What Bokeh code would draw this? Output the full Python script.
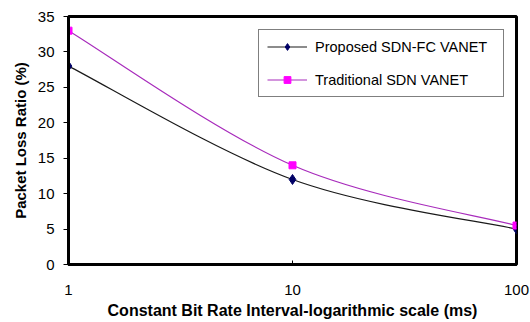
from bokeh.plotting import figure
from bokeh.models import FixedTicker, Range1d, Legend, LegendItem, ColumnDataSource
from bokeh.embed import file_html
from bokeh.resources import INLINE
import numpy as np

# ---- data ----
cbr_interval = [1, 10, 100]
proposed = [28, 12, 5]
traditional = [33, 14, 5.5]
x_tick_values = [1, 10, 100]
x_tick_labels = ["1", "10", "100"]
y_tick_values = [0, 5, 10, 15, 20, 25, 30, 35]
series_names = ["Proposed SDN-FC VANET", "Traditional SDN VANET"]

FONT = "Liberation Sans"

p = figure(width=530, height=322, x_axis_type="log",
           x_range=Range1d(1, 100), y_range=Range1d(0, 35),
           output_backend="svg", toolbar_location=None,
           min_border_left=68, min_border_right=14, min_border_top=16,
           min_border_bottom=58)
p.background_fill_color = "white"
p.border_fill_color = "white"
p.outline_line_color = "black"
p.outline_line_width = 3
p.xgrid.visible = False
p.ygrid.visible = False


def smooth_segments(xs, ys):
    """Cubic bezier segments (Catmull-Rom) through the data points, in log-x space."""
    u = np.log10(np.array(xs, dtype=float))
    v = np.array(ys, dtype=float)
    n = len(u)
    tu = np.zeros(n)
    tv = np.zeros(n)
    for i in range(n):
        a = max(i - 1, 0)
        b = min(i + 1, n - 1)
        tu[i] = (u[b] - u[a]) / 2
        tv[i] = (v[b] - v[a]) / 2
    seg = dict(x0=[], y0=[], x1=[], y1=[], cx0=[], cy0=[], cx1=[], cy1=[])
    for i in range(n - 1):
        seg["x0"].append(10 ** u[i]); seg["y0"].append(v[i])
        seg["x1"].append(10 ** u[i + 1]); seg["y1"].append(v[i + 1])
        seg["cx0"].append(10 ** (u[i] + tu[i] / 3)); seg["cy0"].append(v[i] + tv[i] / 3)
        seg["cx1"].append(10 ** (u[i + 1] - tu[i + 1] / 3)); seg["cy1"].append(v[i + 1] - tv[i + 1] / 3)
    return ColumnDataSource(seg)


b1 = p.bezier("x0", "y0", "x1", "y1", "cx0", "cy0", "cx1", "cy1",
              source=smooth_segments(cbr_interval, proposed),
              line_color="#1a1a1a", line_width=1.2)
s1 = p.scatter(cbr_interval, proposed, marker="diamond", size=10,
               fill_color="#000066", line_color="#000066")
b2 = p.bezier("x0", "y0", "x1", "y1", "cx0", "cy0", "cx1", "cy1",
              source=smooth_segments(cbr_interval, traditional),
              line_color="#a82cbc", line_width=1.2)
s2 = p.scatter(cbr_interval, traditional, marker="square", size=7,
               fill_color="#ff00ff", line_color="#ff00ff")

# axes
p.xaxis.ticker = FixedTicker(ticks=x_tick_values)
p.xaxis.major_label_overrides = {v: l for v, l in zip(x_tick_values, x_tick_labels)}
p.xaxis.minor_tick_line_color = None
p.xaxis.major_tick_in = 4
p.xaxis.major_tick_out = 0
p.xaxis.major_label_standoff = 20
p.xaxis.axis_label = "Constant Bit Rate Interval-logarithmic scale (ms)"
p.xaxis.axis_label_standoff = 4

p.yaxis.ticker = FixedTicker(ticks=y_tick_values)
p.yaxis.minor_tick_line_color = None
p.yaxis.major_tick_in = 0
p.yaxis.major_tick_out = 5
p.yaxis.major_label_standoff = 9
p.yaxis.axis_label = "Packet Loss Ratio (%)"
p.yaxis.axis_label_standoff = 6

for ax in (p.xaxis, p.yaxis):
    ax.axis_line_color = "black"
    ax.axis_line_width = 3
    ax.major_tick_line_color = "black"
    ax.major_tick_line_width = 1
    ax.major_label_text_font = FONT
    ax.major_label_text_font_size = "15px"
    ax.major_label_text_color = "black"
    ax.axis_label_text_font = FONT
    ax.axis_label_text_font_style = "bold"
    ax.axis_label_text_color = "black"
p.xaxis.axis_label_text_font_size = "16px"
p.yaxis.axis_label_text_font_size = "15px"

legend = Legend(items=[LegendItem(label=series_names[0], renderers=[b1, s1]),
                       LegendItem(label=series_names[1], renderers=[b2, s2])],
                location=(190, 167))
legend.label_text_font = FONT
legend.label_text_font_size = "14.5px"
legend.label_text_color = "black"
legend.border_line_color = "black"
legend.border_line_width = 1
legend.background_fill_alpha = 1
legend.padding = 8
legend.spacing = 16
legend.glyph_width = 40
legend.glyph_height = 17
legend.label_height = 17
legend.label_width = 180
legend.label_standoff = 8
legend.margin = 0
p.add_layout(legend)

open("out.html", "w").write(file_html(p, INLINE))
